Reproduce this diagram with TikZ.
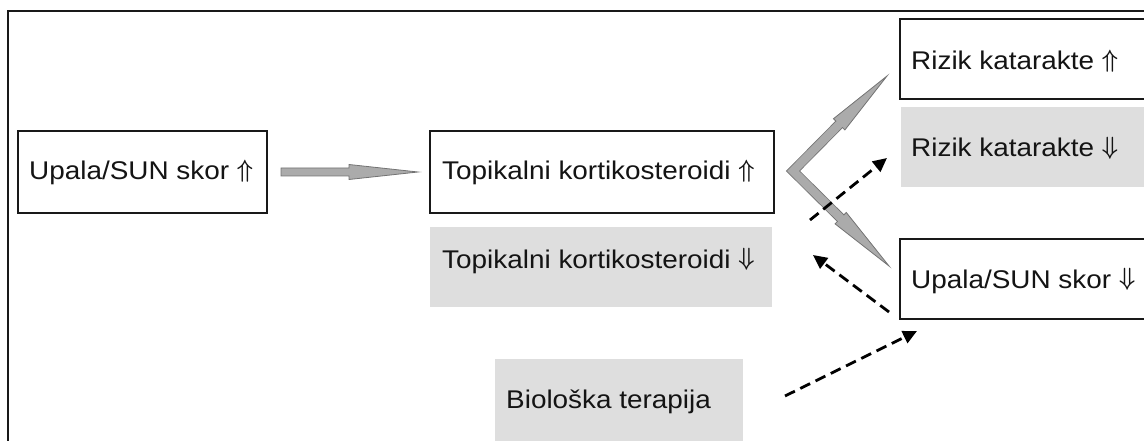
\documentclass[tikz,border=0pt]{standalone}
\usepackage{fontspec}
\setmainfont{Liberation Sans}[FakeStretch=1.09]
\usetikzlibrary{calc,arrows.meta}
\newcommand\headonly[4]{% base point, tip, shaft half, head half
  \filldraw[blk] ($(#1)!#3!90:(#2)$) -- ($(#1)!#4!90:(#2)$) -- (#2)
    -- ($(#1)!#4!-90:(#2)$) -- ($(#1)!#3!-90:(#2)$);
}
\newcommand\blockarr[5]{%
  \coordinate (bh) at ($(#2)!#5!(#1)$);
  \filldraw[blk] ($(#1)!#3!90:(#2)$) -- ($(bh)!#3!90:(#2)$) -- ($(bh)!#4!90:(#2)$) -- (#2)
    -- ($(bh)!#4!-90:(#2)$) -- ($(bh)!#3!-90:(#2)$) -- ($(#1)!#3!-90:(#2)$) -- cycle;
}
\newcommand\UpA{\raisebox{2pt}{\scalebox{2.3}[2.5]{\normalsize\boldmath$\Uparrow$}}}
\newcommand\DnA{\raisebox{2pt}{\scalebox{2.3}[2.5]{\normalsize\boldmath$\Downarrow$}}}
\begin{document}
\begin{tikzpicture}[x=1pt,y=-1pt,
  box/.style={draw=black!90, line width=2pt, fill=white, inner sep=0pt, outer sep=0pt},
  gbox/.style={fill=black!13, inner sep=0pt, outer sep=0pt},
  txt/.style={anchor=base west, inner sep=0pt, text=black!92, font=\fontsize{25.6}{30}\selectfont},
  dasharrow/.style={line width=2.8pt, dash pattern=on 11pt off 6pt, -{Triangle[length=14pt,width=13pt]}},
  blk/.style={fill=black!33, draw=black!55, line width=0.8pt, line join=miter}]
\useasboundingbox (0,0) rectangle (1144,441);
\begin{scope}
\clip (0,0) rectangle (1144,441);
% frame
\draw[line width=2pt, draw=black!90] (7.5,470) -- (7.5,11) -- (1170,11);
% boxes
\node[box, minimum width=249pt, minimum height=82pt] (b1) at (142.5,172) {};
\node[box, minimum width=344pt, minimum height=82pt] (b2) at (602,172) {};
\node[gbox, minimum width=342pt, minimum height=80pt] (g2) at (601,267) {};
\node[gbox, minimum width=248pt, minimum height=86pt] (gb) at (619,402) {};
\node[box, minimum width=260pt, minimum height=80pt] (r1) at (1030,59) {};
\node[gbox, minimum width=260pt, minimum height=80pt] (r2) at (1031,147) {};
\node[box, minimum width=260pt, minimum height=80pt] (u2) at (1030,279) {};
% texts
\node[txt] (t1) at (29,180) {Upala/SUN skor \UpA};
\node[txt] (t2) at (442,180) {Topikalni kortikosteroidi \UpA};
\node[txt] (t3) at (442,268) {Topikalni kortikosteroidi \DnA};
\node[txt] (t4) at (506,408) {Biološka terapija};
\node[txt] (t5) at (911,70) {Rizik katarakte \UpA};
\node[txt] (t6) at (911,157) {Rizik katarakte \DnA};
\node[txt] (t7) at (911,288) {Upala/SUN skor \DnA};
% block arrows
\coordinate (a1s) at ($(b1.east)+(14,0)$);
\coordinate (a1e) at ($(b2.west)+(-12,0)$);
\blockarr{a1s}{a1e}{4pt}{7.5pt}{69pt}
\coordinate (v) at ($(b2.east)+(19,-1)$);
\coordinate (vt1) at ($(r1.west)+(-13,17)$);
\coordinate (vt2) at ($(u2.west)+(-11,-13)$);
\coordinate (h1) at ($(vt1)!68pt!(v)$);
\coordinate (h2) at ($(vt2)!68pt!(v)$);
\draw[line width=10pt, draw=black!55, line join=miter] ($(h1)!1pt!(vt1)$) -- (v) -- ($(h2)!1pt!(vt2)$);
\draw[line width=8.4pt, draw=black!33, line join=miter] ($(h1)!2pt!(vt1)$) -- (v) -- ($(h2)!2pt!(vt2)$);
\headonly{h1}{vt1}{4.2pt}{8pt}
\headonly{h2}{vt2}{4.2pt}{8pt}
% dashed arrows
\coordinate (d1s) at (810,220);
\coordinate (d1e) at ($(r2.south west)+(-14,-29)$);
\draw[dasharrow] (d1s) -- (d1e);
\coordinate (d2s) at ($(u2.west)+(-11,33)$);
\coordinate (d2e) at ($(g2.east)+(41,-12)$);
\draw[dasharrow] (d2s) -- (d2e);
\coordinate (d3s) at ($(gb.east)+(42,-6)$);
\coordinate (d3e) at ($(u2.south west)+(17,12)$);
\draw[dasharrow] (d3s) -- (d3e);
\end{scope}
\end{tikzpicture}
\end{document}
